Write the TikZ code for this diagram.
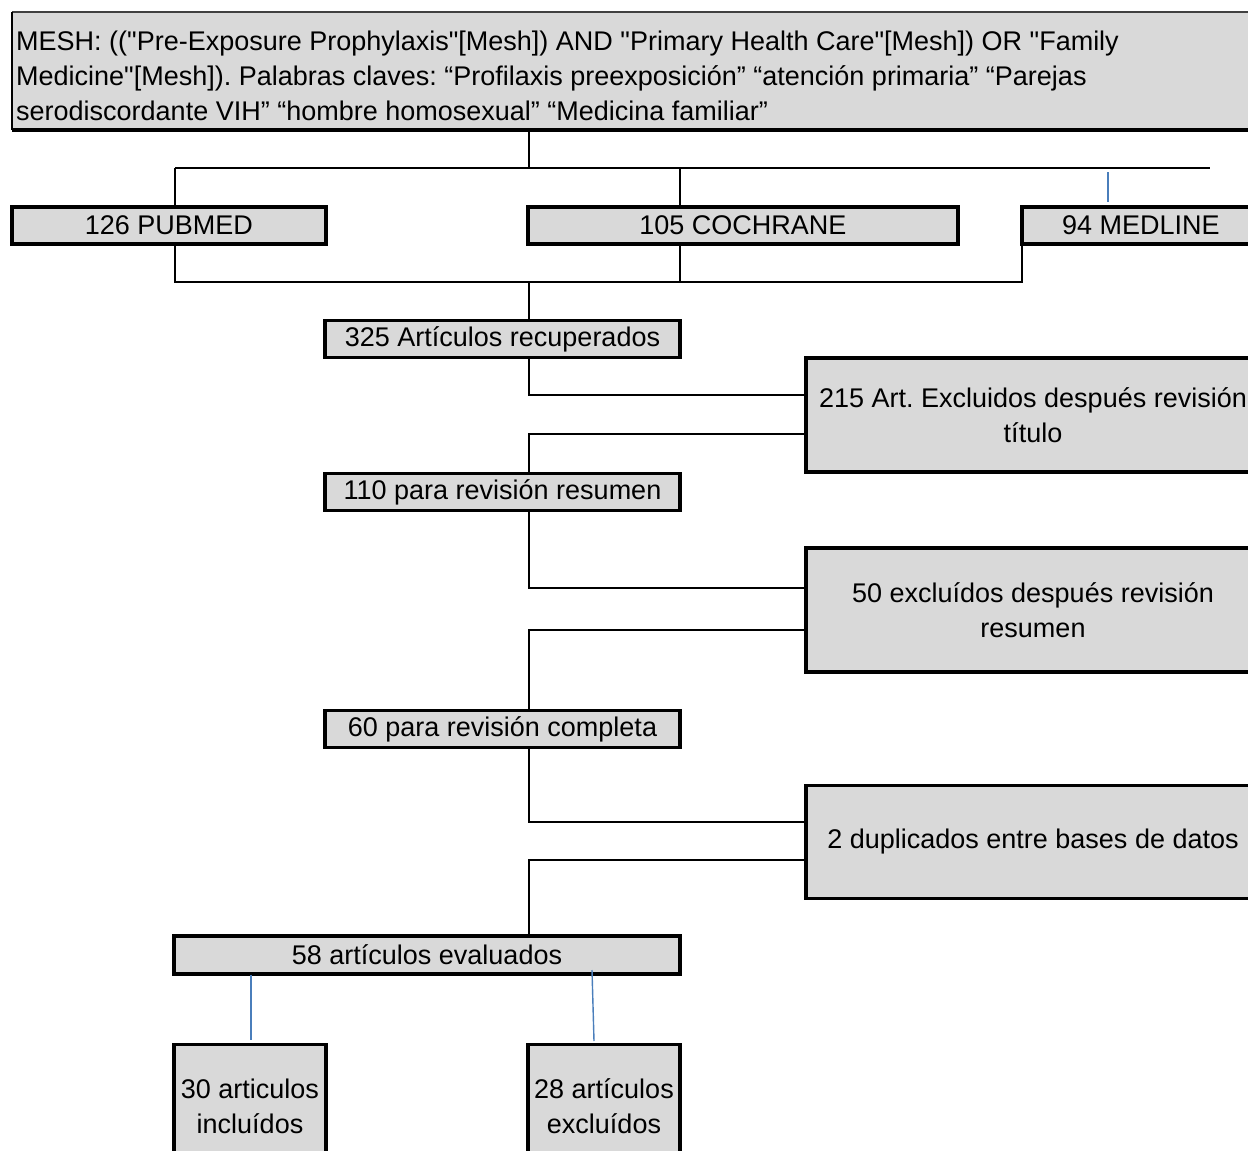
\documentclass[tikz,border=0pt]{standalone}
\usepackage{fontspec}
\setmainfont{Liberation Sans}[Ligatures=TeXOff]
\frenchspacing
\begin{document}
\begin{tikzpicture}[x=1pt,y=-1pt,
  box/.style={draw=black, line width=3.2pt, fill=boxgray, inner sep=0pt, outer sep=0pt, align=center,
              font=\fontsize{27}{35}\selectfont},
  conn/.style={draw=black, line width=2.3pt},
  blueline/.style={draw=lineblue, line width=1.4pt}]
\definecolor{boxgray}{HTML}{D9D9D9}
\definecolor{lineblue}{HTML}{4A7EBB}
\useasboundingbox (0,0) rectangle (1248,1151);
\clip (0,0) rectangle (1248,1151);
% top search box
\node[draw=none, fill=boxgray, inner sep=0pt, outer sep=0pt, minimum width=1250pt, minimum height=118pt] (meshbox) at (637,71) {};
\draw[line width=1.2pt, draw=black!75] (meshbox.north west) -- (meshbox.north east);
\draw[line width=1.6pt] (meshbox.north west) -- (meshbox.south west);
\draw[line width=3.2pt] (meshbox.south west) -- (meshbox.south east);
\node[anchor=west, inner sep=0pt, align=left, font=\fontsize{27}{35}\selectfont] (meshtext) at (16,76)
 {MESH: (("Pre-Exposure Prophylaxis"[Mesh]) AND "Primary Health Care"[Mesh]) OR "Family\\
  Medicine"[Mesh]). Palabras claves: “Profilaxis preexposición” “atención primaria” “Parejas\\
  serodiscordante VIH” “hombre homosexual” “Medicina familiar”};
% databases
\node[box, minimum width=314pt, minimum height=37pt] (pubmed) at (169,225.5) {126 PUBMED};
\node[box, minimum width=430pt, minimum height=37pt] (cochrane) at (743,225.5) {105 COCHRANE};
\node[box, minimum width=238pt, minimum height=37pt] (medline) at (1141,225.5) {94 MEDLINE};
% main flow
\node[box, minimum width=355pt, minimum height=37pt] (rec) at (502.5,339) {325 Artículos recuperados};
\node[box, minimum width=454pt, minimum height=114pt] (exa) at (1033,415) {215 Art. Excluidos después revisión\\título};
\node[box, minimum width=355pt, minimum height=37pt] (rev) at (502.5,492) {110 para revisión resumen};
\node[box, minimum width=454pt, minimum height=124pt] (exb) at (1033,610) {50 excluídos después revisión\\resumen};
\node[box, minimum width=355pt, minimum height=37pt] (comp) at (502.5,729) {60 para revisión completa};
\node[box, minimum width=454pt, minimum height=113pt] (dup) at (1033,842) {2 duplicados entre bases de datos};
\node[box, minimum width=506pt, minimum height=38pt] (eval) at (427,955) {58 artículos evaluados};
\node[box, minimum width=152pt, minimum height=123pt] (inc) at (250,1106) {30 articulos\\incluídos};
\node[box, minimum width=152pt, minimum height=123pt] (exc) at (604,1106) {28 artículos\\excluídos};
% junction coordinates
\coordinate (jtop) at (529,168);
\coordinate (jl) at (175,168);
\coordinate (jr) at (1210,168);
\coordinate (jc) at (680,168);
\coordinate (bl) at (175,282);
\coordinate (bc) at (680,282);
\coordinate (br) at (1022,282);
\coordinate (bm) at (529,282);
\coordinate (ka) at (529,395);
\coordinate (kb) at (529,434);
\coordinate (kc) at (529,588);
\coordinate (kd) at (529,630);
\coordinate (ke) at (529,822);
\coordinate (kf) at (529,860);
\coordinate (ma) at (1108,172);
\coordinate (mb) at (1108,202);
\coordinate (ia) at (251,975);
\coordinate (ib) at (251,1040);
\coordinate (ea) at (592,970);
\coordinate (eb) at (594,1041);
% connectors
\draw[conn] (meshbox.south -| jtop) -- (jtop);
\draw[conn] (jl) -- (jr);
\draw[conn] (jl) -- (pubmed.north -| jl);
\draw[conn] (jc) -- (cochrane.north -| jc);
\draw[blueline] (ma) -- (mb);
\draw[conn] (pubmed.south -| bl) -- (bl) -- (br) -- (br |- medline.south);
\draw[conn] (cochrane.south -| bc) -- (bc);
\draw[conn] (bm) -- (rec.north -| bm);
\draw[conn] (rec.south -| ka) -- (ka) -- (exa.west |- ka);
\draw[conn] (exa.west |- kb) -- (kb) -- (rev.north -| kb);
\draw[conn] (rev.south -| kc) -- (kc) -- (exb.west |- kc);
\draw[conn] (exb.west |- kd) -- (kd) -- (comp.north -| kd);
\draw[conn] (comp.south -| ke) -- (ke) -- (dup.west |- ke);
\draw[conn] (dup.west |- kf) -- (kf) -- (eval.north -| kf);
\draw[blueline] (ia) -- (ib);
\draw[blueline] (ea) -- (eb);
\end{tikzpicture}
\end{document}
